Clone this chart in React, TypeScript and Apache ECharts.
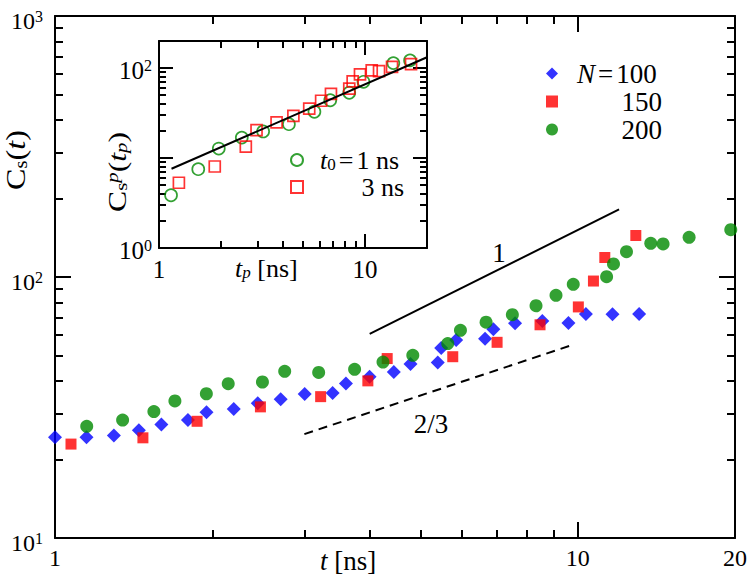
import React, { useEffect, useRef } from 'react';
import * as echarts from 'echarts';

const FONT = "'Liberation Serif', 'Times New Roman', Times, serif";

// ---- main plot data: C_s(t) vs t [ns]
const tN100 = [1.0, 1.149, 1.296, 1.447, 1.598, 1.796, 1.949, 2.198, 2.443, 2.703, 3.004, 3.398, 3.603, 3.998, 4.449, 4.788, 5.399, 5.481, 5.855, 6.651, 6.898, 7.589, 8.557, 9.603, 10.37, 11.66, 13.11];
const cN100 = [24.3, 24.3, 24.7, 25.9, 27.2, 28.3, 30.3, 31.2, 32.8, 34.0, 35.6, 35.9, 39.1, 41.5, 43.3, 46.4, 47.0, 53.5, 57.3, 58.0, 63.0, 66.5, 67.8, 66.6, 72.1, 72.0, 72.1];
const tN150 = [1.073, 1.473, 1.87, 2.472, 3.223, 3.968, 4.321, 5.768, 7.012, 8.472, 10.03, 10.72, 11.27, 12.92];
const cN150 = [22.9, 24.2, 28.0, 31.8, 34.8, 40.0, 48.7, 49.5, 56.2, 65.6, 76.8, 96.5, 118.8, 144.2];
const tN200 = [1.15, 1.347, 1.546, 1.696, 1.948, 2.145, 2.494, 2.751, 3.195, 3.743, 4.242, 4.837, 5.642, 5.967, 6.68, 7.5, 8.324, 9.09, 9.808, 11.36, 11.71, 12.4, 13.8, 14.57, 16.34, 19.63];
const cN200 = [26.8, 28.3, 30.5, 33.5, 35.7, 39.0, 39.6, 43.5, 43.1, 44.3, 47.2, 50.1, 55.6, 62.5, 67.1, 71.7, 77.6, 85.1, 93.8, 100.3, 112.2, 125.0, 134.6, 133.8, 141.9, 151.8];

// guide lines (slope 1 and slope 2/3)
const slope1T = [4, 12];
const slope1C = [60.5, 181.5];
const slope23T = [3, 9.85];
const slope23C = [25, 55.2];

// ---- inset data: C_s^p(t_p) vs t_p [ns]
const tpT01 = [1.144, 1.551, 1.951, 2.523, 3.203, 4.272, 5.682, 6.782, 8.387, 9.833, 13.73, 16.55];
const cpT01 = [3.86, 7.52, 12.74, 16.87, 19.75, 23.79, 32.73, 43.88, 53.14, 70.36, 113.6, 121.7];
const tpT03 = [1.249, 1.865, 2.639, 2.975, 3.722, 4.491, 5.361, 6.125, 6.835, 8.387, 8.712, 9.456, 10.78, 11.7, 13.53, 16.73];
const cpT03 = [5.31, 8.05, 13.41, 20.42, 24.92, 29.41, 35.51, 43.33, 51.8, 59.15, 71.25, 85.15, 94.3, 92.4, 103.1, 110.4];
const fitT = [1.15, 20];
const fitC = [7.6, 132];

// ---- ticks and labels
const mainXMajor = [1, 10];
const mainXMinor = [2, 3, 4, 5, 6, 7, 8, 9];
const mainXLabels = [1, 10, 20];
const mainYMajor = [10, 100, 1000];
const mainYMinor = [20, 30, 40, 50, 60, 70, 80, 90, 200, 300, 400, 500, 600, 700, 800, 900];
const mainYLabels = [10, 100, 1000];
const insetXMajor = [1, 10];
const insetXMinor = [2, 3, 4, 5, 6, 7, 8, 9];
const insetXLabels = [1, 10];
const insetYMajor = [1, 10, 100];
const insetYMinor = [2, 3, 4, 5, 6, 7, 8, 9, 20, 30, 40, 50, 60, 70, 80, 90];
const insetYLabels = [1, 100];

const BLUE = '#0000ff';
const RED = '#ff0000';
const GREEN = '#008a00';

const zip = (xs: number[], ys: number[]) => xs.map((x, i) => [x, ys[i]]);
const pow10Label = (v: number) => `{b|10}{s|${Math.round(Math.log10(v))}}`;

type Dim = 'x' | 'y';

function axisGroup(
  dim: Dim,
  grid: number,
  min: number,
  max: number,
  major: number[],
  minor: number[],
  majorLen: number,
  minorLen: number,
  label: any
) {
  const sides = dim === 'x' ? ['bottom', 'top'] : ['left', 'right'];
  const base = {
    type: 'log',
    logBase: 10,
    gridIndex: grid,
    min,
    max,
    splitLine: { show: false },
    minorTick: { show: false },
    minorSplitLine: { show: false },
    axisPointer: { show: false },
    silent: true,
  };
  const out: any[] = [];
  sides.forEach((pos, si) => {
    out.push({
      ...base,
      position: pos,
      axisLine: { show: true, onZero: false, lineStyle: { color: '#000', width: 2 } },
      axisTick: { show: true, inside: true, length: majorLen, customValues: major, lineStyle: { color: '#000', width: 2 } },
      axisLabel: si === 0 ? label : { show: false },
    });
    out.push({
      ...base,
      position: pos,
      axisLine: { show: false },
      axisTick: { show: true, inside: true, length: minorLen, customValues: minor, lineStyle: { color: '#000', width: 2 } },
      axisLabel: { show: false },
    });
  });
  return out;
}

export default function App() {
  const ref = useRef<HTMLDivElement>(null);

  useEffect(() => {
    if (!ref.current) return;
    const chart = echarts.init(ref.current, undefined, { renderer: 'svg' });

    const mainXLabel = {
      show: true,
      customValues: mainXLabels,
      margin: 8,
      color: '#000',
      fontFamily: FONT,
      fontSize: 24,
      formatter: (v: number) => String(Math.round(v)),
    };
    const mainYLabel = {
      show: true,
      customValues: mainYLabels,
      margin: 12,
      color: '#000',
      fontFamily: FONT,
      padding: [9, 0, 0, 0],
      formatter: (v: number) => pow10Label(v),
      rich: {
        b: { fontSize: 24, lineHeight: 24, fontFamily: FONT, color: '#000' },
        s: { fontSize: 16, lineHeight: 7, verticalAlign: 'top', fontFamily: FONT, color: '#000' },
      },
    };
    const insetXLabel = {
      show: true,
      customValues: insetXLabels,
      margin: 9,
      color: '#000',
      fontFamily: FONT,
      fontSize: 25,
      formatter: (v: number) => String(Math.round(v)),
    };
    const insetYLabel = {
      show: true,
      customValues: insetYLabels,
      margin: 7,
      color: '#000',
      fontFamily: FONT,
      padding: [4, 0, 0, 0],
      formatter: (v: number) => pow10Label(v),
      rich: {
        b: { fontSize: 25, lineHeight: 25, fontFamily: FONT, color: '#000' },
        s: { fontSize: 16, lineHeight: 7, verticalAlign: 'top', fontFamily: FONT, color: '#000' },
      },
    };

    const xAxes = [
      ...axisGroup('x', 0, 1, 20, mainXMajor, mainXMinor, 16, 8, mainXLabel),
      ...axisGroup('x', 1, 1, 20, insetXMajor, insetXMinor, 14, 7, insetXLabel),
    ];
    const yAxes = [
      ...axisGroup('y', 0, 10, 1000, mainYMajor, mainYMinor, 16, 8, mainYLabel),
      ...axisGroup('y', 1, 1, 200, insetYMajor, insetYMinor, 14, 7, insetYLabel),
    ];

    const legendRichMain = {
      i: { fontSize: 27, lineHeight: 27, fontStyle: 'italic', fontFamily: FONT, color: '#000', padding: [0, 0, 0, 14] },
      e: { fontSize: 27, lineHeight: 27, fontFamily: FONT, color: '#000', padding: [0, 3, 0, 3] },
      t: { fontSize: 27, lineHeight: 27, fontFamily: FONT, color: '#000' },
      r: { fontSize: 27, lineHeight: 27, fontFamily: FONT, color: '#000', width: 99, align: 'right' },
    };
    const legendRichInset = {
      i: { fontSize: 26, lineHeight: 25, fontStyle: 'italic', fontFamily: FONT, color: '#000', padding: [0, 0, 0, 12] },
      sub: { fontSize: 17, lineHeight: 6, verticalAlign: 'bottom', fontFamily: FONT, color: '#000' },
      e: { fontSize: 26, lineHeight: 25, fontFamily: FONT, color: '#000', padding: [0, 3, 0, 3] },
      t: { fontSize: 26, lineHeight: 25, fontFamily: FONT, color: '#000' },
      r: { fontSize: 26, lineHeight: 25, fontFamily: FONT, color: '#000', width: 96, align: 'right' },
    };

    const option: any = {
      animation: false,
      backgroundColor: '#fff',
      textStyle: { fontFamily: FONT, color: '#000' },
      grid: [
        { left: 55, top: 16, width: 681, height: 522, show: false },
        { left: 159, top: 41, width: 268, height: 207, show: true, backgroundColor: '#fff', borderWidth: 0 },
      ],
      xAxis: xAxes,
      yAxis: yAxes,
      legend: [
        {
          data: ['N=100', '150', '200'],
          orient: 'vertical',
          left: 546,
          top: 60,
          padding: 0,
          itemWidth: 12,
          itemHeight: 12,
          itemGap: 1,
          selectedMode: false,
          textStyle: { fontFamily: FONT, color: '#000', rich: legendRichMain },
          formatter: (name: string) => (name === 'N=100' ? '{i|N}{e|=}{t|100}' : `{r|${name}}`),
        },
        {
          data: ['t0=1 ns', '3 ns'],
          orient: 'vertical',
          left: 290,
          top: 147,
          padding: 0,
          itemWidth: 12,
          itemHeight: 12,
          itemGap: 1,
          selectedMode: false,
          textStyle: { fontFamily: FONT, color: '#000', rich: legendRichInset },
          formatter: (name: string) => (name === 't0=1 ns' ? '{i|t}{sub|0}{e|=}{t|1 ns}' : `{r|${name}}`),
        },
      ],
      series: [
        {
          type: 'line',
          name: 'slope 1',
          xAxisIndex: 0,
          yAxisIndex: 0,
          data: zip(slope1T, slope1C),
          symbol: 'none',
          lineStyle: { color: '#000', width: 2 },
          silent: true,
        },
        {
          type: 'line',
          name: 'slope 2/3',
          xAxisIndex: 0,
          yAxisIndex: 0,
          data: zip(slope23T, slope23C),
          symbol: 'none',
          lineStyle: { color: '#000', width: 2, type: [9, 6] },
          silent: true,
        },
        {
          type: 'scatter',
          name: 'N=100',
          xAxisIndex: 0,
          yAxisIndex: 0,
          data: zip(tN100, cN100),
          symbol: 'diamond',
          symbolSize: 14,
          clip: false,
          itemStyle: { color: BLUE },
        },
        {
          type: 'scatter',
          name: '150',
          xAxisIndex: 0,
          yAxisIndex: 0,
          data: zip(tN150, cN150),
          symbol: 'rect',
          symbolSize: 11,
          clip: false,
          itemStyle: { color: RED },
        },
        {
          type: 'scatter',
          name: '200',
          xAxisIndex: 0,
          yAxisIndex: 0,
          data: zip(tN200, cN200),
          symbol: 'circle',
          symbolSize: 13,
          clip: false,
          itemStyle: { color: GREEN },
        },
        {
          type: 'line',
          name: 'fit',
          xAxisIndex: 4,
          yAxisIndex: 4,
          data: zip(fitT, fitC),
          symbol: 'none',
          lineStyle: { color: '#000', width: 2 },
          silent: true,
        },
        {
          type: 'scatter',
          name: 't0=1 ns',
          xAxisIndex: 4,
          yAxisIndex: 4,
          data: zip(tpT01, cpT01),
          symbol: 'circle',
          symbolSize: 12,
          clip: false,
          itemStyle: { color: 'rgba(255,255,255,0)', borderColor: GREEN, borderWidth: 1.7 },
        },
        {
          type: 'scatter',
          name: '3 ns',
          xAxisIndex: 4,
          yAxisIndex: 4,
          data: zip(tpT03, cpT03),
          symbol: 'rect',
          symbolSize: 11,
          clip: false,
          itemStyle: { color: 'rgba(255,255,255,0)', borderColor: RED, borderWidth: 1.7 },
        },
      ],
      graphic: [
        {
          type: 'text',
          x: 16,
          y: 160,
          rotation: Math.PI / 2,
          scaleX: 1.15,
          silent: true,
          style: {
            text: '{c|C}{s|s}{n|(}{i|t}{n|)}',
            align: 'center',
            verticalAlign: 'middle',
            rich: {
              c: { fontSize: 28, lineHeight: 28, fontFamily: FONT, fill: '#000' },
              s: { fontSize: 18, lineHeight: 8, verticalAlign: 'bottom', fontFamily: FONT, fill: '#000' },
              n: { fontSize: 28, lineHeight: 28, fontFamily: FONT, fill: '#000' },
              i: { fontSize: 28, lineHeight: 28, fontStyle: 'italic', fontFamily: FONT, fill: '#000' },
            },
          },
        },
        {
          type: 'text',
          x: 320,
          y: 561,
          silent: true,
          style: {
            text: '{i|t}{n| [ns]}',
            align: 'left',
            verticalAlign: 'middle',
            rich: {
              i: { fontSize: 27, lineHeight: 27, fontStyle: 'italic', fontFamily: FONT, fill: '#000' },
              n: { fontSize: 27, lineHeight: 27, fontFamily: FONT, fill: '#000' },
            },
          },
        },
        {
          type: 'text',
          x: 117,
          y: 172,
          rotation: Math.PI / 2,
          scaleX: 1.22,
          silent: true,
          style: {
            text: '{c|C}{s|s}{p|p}{n|(}{i|t}{q|p}{n|)}',
            align: 'center',
            verticalAlign: 'middle',
            rich: {
              c: { fontSize: 26, lineHeight: 26, fontFamily: FONT, fill: '#000' },
              s: { fontSize: 17, lineHeight: 3, verticalAlign: 'bottom', fontFamily: FONT, fill: '#000' },
              p: { fontSize: 17, lineHeight: 14, verticalAlign: 'top', fontStyle: 'italic', fontFamily: FONT, fill: '#000' },
              n: { fontSize: 26, lineHeight: 26, fontFamily: FONT, fill: '#000' },
              i: { fontSize: 26, lineHeight: 26, fontStyle: 'italic', fontFamily: FONT, fill: '#000' },
              q: { fontSize: 17, lineHeight: 3, verticalAlign: 'bottom', fontStyle: 'italic', fontFamily: FONT, fill: '#000' },
            },
          },
        },
        {
          type: 'text',
          x: 235,
          y: 268,
          silent: true,
          style: {
            text: '{i|t}{q|p}{n| [ns]}',
            align: 'left',
            verticalAlign: 'middle',
            rich: {
              i: { fontSize: 26, lineHeight: 26, fontStyle: 'italic', fontFamily: FONT, fill: '#000' },
              q: { fontSize: 17, lineHeight: 4, verticalAlign: 'bottom', fontStyle: 'italic', fontFamily: FONT, fill: '#000' },
              n: { fontSize: 26, lineHeight: 26, fontFamily: FONT, fill: '#000' },
            },
          },
        },
        {
          type: 'text',
          x: 499,
          y: 253,
          silent: true,
          style: { text: '1', fontSize: 27, fontFamily: FONT, fill: '#000', align: 'center', verticalAlign: 'middle' },
        },
        {
          type: 'text',
          x: 431,
          y: 424,
          silent: true,
          style: { text: '2/3', fontSize: 27, fontFamily: FONT, fill: '#000', align: 'center', verticalAlign: 'middle' },
        },
      ],
    };

    chart.setOption(option);
    return () => chart.dispose();
  }, []);

  return (
    <div
      ref={ref}
      style={{ position: 'absolute', left: 0, top: 0, width: 750, height: 577, background: '#fff' }}
    />
  );
}
